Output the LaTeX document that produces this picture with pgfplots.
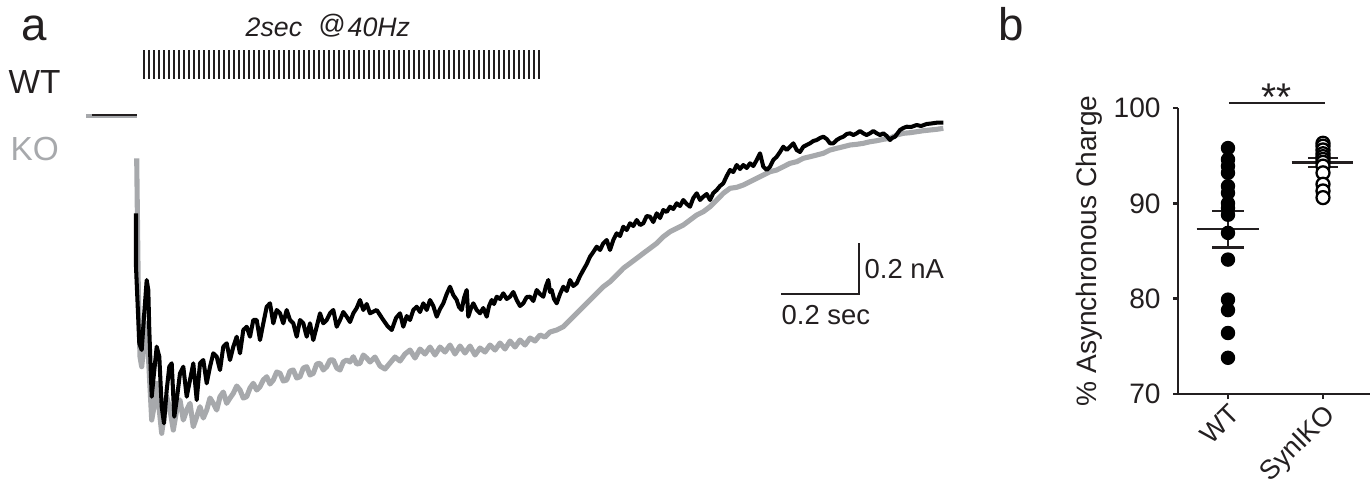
\documentclass[border=0pt]{standalone}
\usepackage{fontspec}
\setmainfont{Liberation Sans}
\usepackage{pgfplots}
\pgfplotsset{compat=1.18}
\definecolor{ink}{RGB}{35,31,32}
\definecolor{kogray}{RGB}{167,169,172}
\newcommand\fs[1]{\fontsize{#1}{#1}\selectfont}

\begin{document}
\begin{tikzpicture}
\useasboundingbox (0,0) rectangle (137.2mm,48.4mm);
% panel a, in the pixel units of the original figure (scale bars give the units)
\begin{axis}[
    at={(0,0)}, anchor=south west,
    scale only axis, width=137.2mm, height=48.4mm,
    xmin=0, xmax=1372, ymin=0, ymax=484, y dir=reverse,
    hide axis, clip=false]
% stimulus train, 80 pulses
\addplot[only marks, mark=|, mark size=4.1pt, mark options={ink, line width=0.4pt}] coordinates {
(144,64.5)(149,64.5)(154,64.5)(159,64.5)(164,64.5)(169,64.5)(174,64.5)(179,64.5)(184,64.5)(189,64.5)
(194,64.5)(199,64.5)(204,64.5)(209,64.5)(214,64.5)(219,64.5)(224,64.5)(229,64.5)(234,64.5)(239,64.5)
(244,64.5)(249,64.5)(254,64.5)(259,64.5)(264,64.5)(269,64.5)(274,64.5)(279,64.5)(284,64.5)(289,64.5)
(294,64.5)(299,64.5)(304,64.5)(309,64.5)(314,64.5)(319,64.5)(324,64.5)(329,64.5)(334,64.5)(339,64.5)
(344,64.5)(349,64.5)(354,64.5)(359,64.5)(364,64.5)(369,64.5)(374,64.5)(379,64.5)(384,64.5)(389,64.5)
(394,64.5)(399,64.5)(404,64.5)(409,64.5)(414,64.5)(419,64.5)(424,64.5)(429,64.5)(434,64.5)(439,64.5)
(444,64.5)(449,64.5)(454,64.5)(459,64.5)(464,64.5)(469,64.5)(474,64.5)(479,64.5)(484,64.5)(489,64.5)
(494,64.5)(499,64.5)(504,64.5)(509,64.5)(514,64.5)(519,64.5)(524,64.5)(529,64.5)(534,64.5)(539,64.5)};
% baselines
\addplot[kogray, line width=0.9pt] coordinates {(86,116)(137,116)};
\addplot[ink, line width=0.5pt] coordinates {(92,114.8)(137,114.8)};
% KO trace
\addplot[kogray, line width=1.45pt, line join=round] coordinates {
(136.7,158.3)(138.3,290)(140,356.7)(141.7,366.7)(144,343.3)(146.7,323.3)(149.3,373.3)(151.7,420)
(154,406.7)(156.7,383.3)(159.3,410)(161.7,433.3)(164,416.7)(166.7,396.7)(170,410)(173.3,430)
(176.7,410)(180,400)(183.3,420)(186.7,410)(190,403.3)(193.3,426.7)(196.7,416.7)(200,406.7)
(203.3,418)(206.7,410)(210,398)(213.3,403.3)(216.7,410)(220,396.7)(223.3,392)(226.7,403.3)
(230,398)(233.3,393.3)(236.7,386)(240,390)(243.3,398)(246.7,396.7)(250,388)(253.3,383.3)
(256.7,390)(260,386.7)(263.3,380)(266.7,376.7)(270,384)(273.3,380)(276.7,372)(280,373.3)
(283.3,381)(286.7,380)(290,371)(293.3,370)(296.7,378)(300,376.7)(303.3,368)(306.7,366.7)
(310,375)(313.3,373.3)(316.7,364)(320,363.3)(323.3,370)(326.7,366.7)(330,360)(333.3,360)
(336.7,368)(340,370)(343.3,362)(346.7,360)(350,362)(353.3,356.7)(356.7,364)(360,363.3)
(363.3,355)(366.7,358)(370,362)(375,357)(380,366)(385,369)(390,363)(395,357)(400,361)(405,354)
(410,350)(415,358)(420,349)(425,354)(430,347)(435,355)(440,347)(445,352)(450,345)(455,354)
(460,346)(465,353)(470,346)(475,355)(480,348)(485,352)(490,345)(495,350)(500,343)(505,349)
(510,341)(515,347)(520,340)(525,345)(530,338)(535,341)(540,335)(545,337)(550,332)(556.7,330)
(563.3,326.7)(570,320)(576.7,313.3)(583.3,306.7)(590,300)(596.7,293.3)(603.3,286.7)(610,281.7)
(616.7,275)(623.3,268.3)(630,263.3)(636.7,258.3)(643.3,253.3)(650,248.3)(656.7,243.3)(663.3,236.7)
(670,231.7)(676.7,228.3)(683.3,225)(690,220)(696.7,215)(703.3,211.7)(710,206.7)(716.7,200)
(723.3,193.3)(730,188.3)(736.7,187.3)(743.3,185)(750,181.7)(756.7,178.3)(763.3,175)(770,171.7)
(776.7,170)(783.3,166.7)(790,163.3)(796.7,161.7)(803.3,158.3)(810,156.7)(816.7,155)(823.3,153.3)
(830,150)(836.7,148.3)(843.3,146.7)(850,145)(856.7,144.3)(863.3,143.3)(870,141.7)(876.7,140.7)
(883.3,139.3)(890,138.3)(896.7,135)(903.3,133.3)(910,132.7)(916.7,131.7)(923.3,130.7)(930,130)
(936.7,129.3)(943.3,128.3)};
% WT trace
\addplot[black, line width=1.15pt, line join=round] coordinates {
(136,213.3)(136,266.7)(139.3,343.3)(141.7,350)(144,316.7)(146.7,280)(148.3,290)(149.3,330)
(151.7,396.7)(154,373.3)(156.7,346.7)(159.3,356.7)(161.7,406.7)(164,423.3)(166.7,390)(169.3,366.7)
(171.7,363.3)(174.3,416.7)(176.7,400)(180,373.3)(183.3,366.7)(186.7,396.7)(190,380)(193.3,363.3)
(196.7,400)(200,363.3)(203.3,360)(206.7,383.3)(210,366.7)(213.3,353.3)(216.7,356.7)(220,370)
(223.3,346.7)(226.7,343.3)(230,360)(233.3,346.7)(236.7,336.7)(240,353.3)(243.3,330)(246.7,326.7)
(250,336.7)(253.3,320)(256.7,320)(260,340)(263.3,323.3)(266.7,306.7)(270,303.3)(273.3,323.3)
(276.7,310)(280,313.3)(283.3,323.3)(286.7,310)(290,320)(293.3,323.3)(296.7,336.7)(300,320)
(303.3,323.3)(306.7,336.7)(310,323.3)(313.3,340)(316.7,326.7)(320,313.3)(323.3,323.3)(326.7,320)
(330,313.3)(333.3,310)(336.7,326.7)(340,320)(343.3,312)(346.7,316.7)(350,322)(353.3,313.3)
(356.7,308)(360,300)(363.3,310)(366.7,304)(370,313.3)(376.7,310)(383.3,320)(387.5,326)(391.7,330)
(396,318)(400,313.3)(403.3,326.7)(406.7,316)(410,320)(413.3,310)(416.7,306.7)(420,312)(423.3,303.3)
(426.7,310)(430,300)(433.3,306)(436.7,316.7)(440,309)(443.3,303.3)(446.7,294)(450,286.7)(453.3,295)
(456.7,300)(459,307)(461.7,310)(464,298)(466.7,290)(468.3,316.7)(470.7,309)(473.3,303.3)(476.7,310)
(480,313.3)(483.3,308)(486.7,316.7)(489,306)(491.7,300)(494,304)(496.7,296.7)(500,299)(503.3,293.3)
(506.7,299)(510,296.7)(513.3,292)(516.7,300)(520,306)(523.3,303.3)(526.7,297)(530,296.7)(533.3,301)
(536.7,290)(540,294)(543.3,296.7)(546,286)(548.3,280)(550,292)(551.7,290)(554,299)(556.7,303.3)
(560,294)(563.3,286.7)(566.7,291)(570,280)(573.3,286)(576.7,283.3)(580,276)(583.3,270)(586.7,264)
(590,256.7)(593.3,252)(596.7,246.7)(600,250)(603.3,243.3)(606.7,240)(610,250)(613.3,240)(616.7,233.3)
(620,236)(623.3,226.7)(626.7,230)(630,223.3)(633.3,226)(636.7,220)(640,225)(643.3,223.3)(646.7,216)
(650,216.7)(653.3,222)(656.7,213.3)(660,218)(663.3,210)(666.7,212)(670,206.7)(673.3,209)(676.7,203.3)
(680,206)(683.3,200)(686.7,204)(690,206.7)(693.3,198)(696.7,193.3)(700,200)(703.3,196.7)(706.7,194)
(710,200)(713.3,193)(716.7,190)(720,186)(723.3,183.3)(726.7,176)(730,170)(733.3,172)(736.7,165)
(740,169)(743.3,165)(746.7,168)(750,163.3)(753.3,166)(756.7,160)(760,153.3)(763.3,166.7)(766.7,170)
(770,166.7)(773.3,160)(776.7,156.7)(780,152)(783.3,146.7)(786.7,150)(790,146.7)(793.3,143.3)
(796.7,150)(800,152)(803.3,146.7)(806.7,145)(810,143.3)(813.3,141)(816.7,140)(820,138)(823.3,136.7)
(826.7,139)(830,143.3)(833.3,143.3)(836.7,140)(840,138)(843.3,136.7)(846.7,134)(850,133.3)
(853.3,135)(856.7,133.3)(860,131)(863.3,133.3)(866.7,135)(870,133.3)(873.3,131)(876.7,133.3)
(880,135)(883.3,133.3)(886.7,136)(890,140)(892,138)(895,136.7)(900,130)(903.3,128)(906.7,126.7)
(911,127)(916.7,125)(921,126)(926.7,124)(931,123.5)(936.7,122.7)(943.3,122.7)};
% scale bar: 0.2 sec / 0.2 nA
\addplot[ink, line width=0.6pt] coordinates {(781,294)(859,294)(859,243)};
\node[ink, anchor=west, inner sep=0] at (axis cs:864,269) {\fs{7.8}0.2 nA};
\node[ink, anchor=north west, inner sep=0] at (axis cs:781,305) {\fs{7.8}0.2 sec};
% labels
\node[ink, anchor=base, inner sep=0] at (axis cs:34,40) {\fs{13}a};
\node[ink, anchor=base, inner sep=0] at (axis cs:1011,40) {\fs{13}b};
\node[ink, anchor=base west, inner sep=0] at (axis cs:8,93) {\fs{9.5}WT};
\node[kogray, anchor=base west, inner sep=0] at (axis cs:10,160) {\fs{9.5}KO};
\node[ink, anchor=base west, inner sep=0] at (axis cs:245,36) {\fs{7.6}\itshape 2sec};
\node[ink, anchor=base west, inner sep=0] at (axis cs:318,33) {\fs{7.6}@};
\node[ink, anchor=base west, inner sep=0] at (axis cs:347,36) {\fs{7.6}\itshape 40Hz};
\end{axis}
% panel b
\begin{axis}[
    at={(117.8mm,9.0mm)}, anchor=south west,
    scale only axis, width=19.2mm, height=28.6mm,
    xmin=0.474, xmax=2.495, ymin=70, ymax=100,
    axis lines=left,
    axis line style={-, line width=0.75pt, ink},
    tick style={line width=0.75pt, ink},
    tick align=outside, major tick length=0.5mm,
    xtick={1,2}, xticklabels={WT,SynIKO},
    ytick={70,80,90,100},
    /pgf/number format/assume math mode=true,
    yticklabel style={font=\fs{8}, ink},
    xticklabel style={font=\fs{7.7}, ink, rotate=45, anchor=north east, inner sep=0.6pt},
    ylabel={\% Asynchronous Charge},
    ylabel style={font=\fs{8}, ink, at={(axis description cs:-0.46,0.5)}, anchor=center},
    clip=false]
\addplot[only marks, mark=*, mark size=1.85pt, mark options={black, fill=black}] coordinates {
(1,95.8)(1,94.6)(1,93.9)(1,93.2)(1,91.8)(1,91.1)(1,90.0)(1,89.5)(1,88.8)(1,86.9)
(1,84.1)(1,79.9)(1,78.8)(1,76.4)(1,73.8)};
\addplot[only marks, mark=*, mark size=1.85pt, mark options={black, fill=white, line width=0.65pt}] coordinates {
(2,96.3)(2,96.0)(2,95.6)(2,95.2)(2,94.9)(2,94.6)(2,94.3)(2,93.9)(2,93.2)(2,92.0)(2,91.3)(2,90.6)};
% mean and SEM
\addplot[ink, line width=0.75pt] coordinates {(0.67,87.3)(1.33,87.3)};
\addplot[ink, line width=0.75pt] coordinates {(1,85.4)(1,89.2)};
\addplot[ink, line width=0.75pt] coordinates {(0.834,89.2)(1.166,89.2)};
\addplot[ink, line width=0.75pt] coordinates {(0.834,85.4)(1.166,85.4)};
\addplot[ink, line width=0.75pt] coordinates {(1.67,94.3)(2.32,94.3)};
\addplot[ink, line width=0.75pt] coordinates {(2,93.8)(2,94.75)};
\addplot[ink, line width=0.75pt] coordinates {(1.84,94.75)(2.16,94.75)};
\addplot[ink, line width=0.75pt] coordinates {(1.84,93.8)(2.16,93.8)};
% significance
\addplot[ink, line width=0.75pt] coordinates {(1.01,100.52)(2.02,100.52)};
\node[ink, anchor=north, inner sep=0] at (axis cs:1.51,102.6) {\fs{11}**};
\end{axis}
\end{tikzpicture}
\end{document}
